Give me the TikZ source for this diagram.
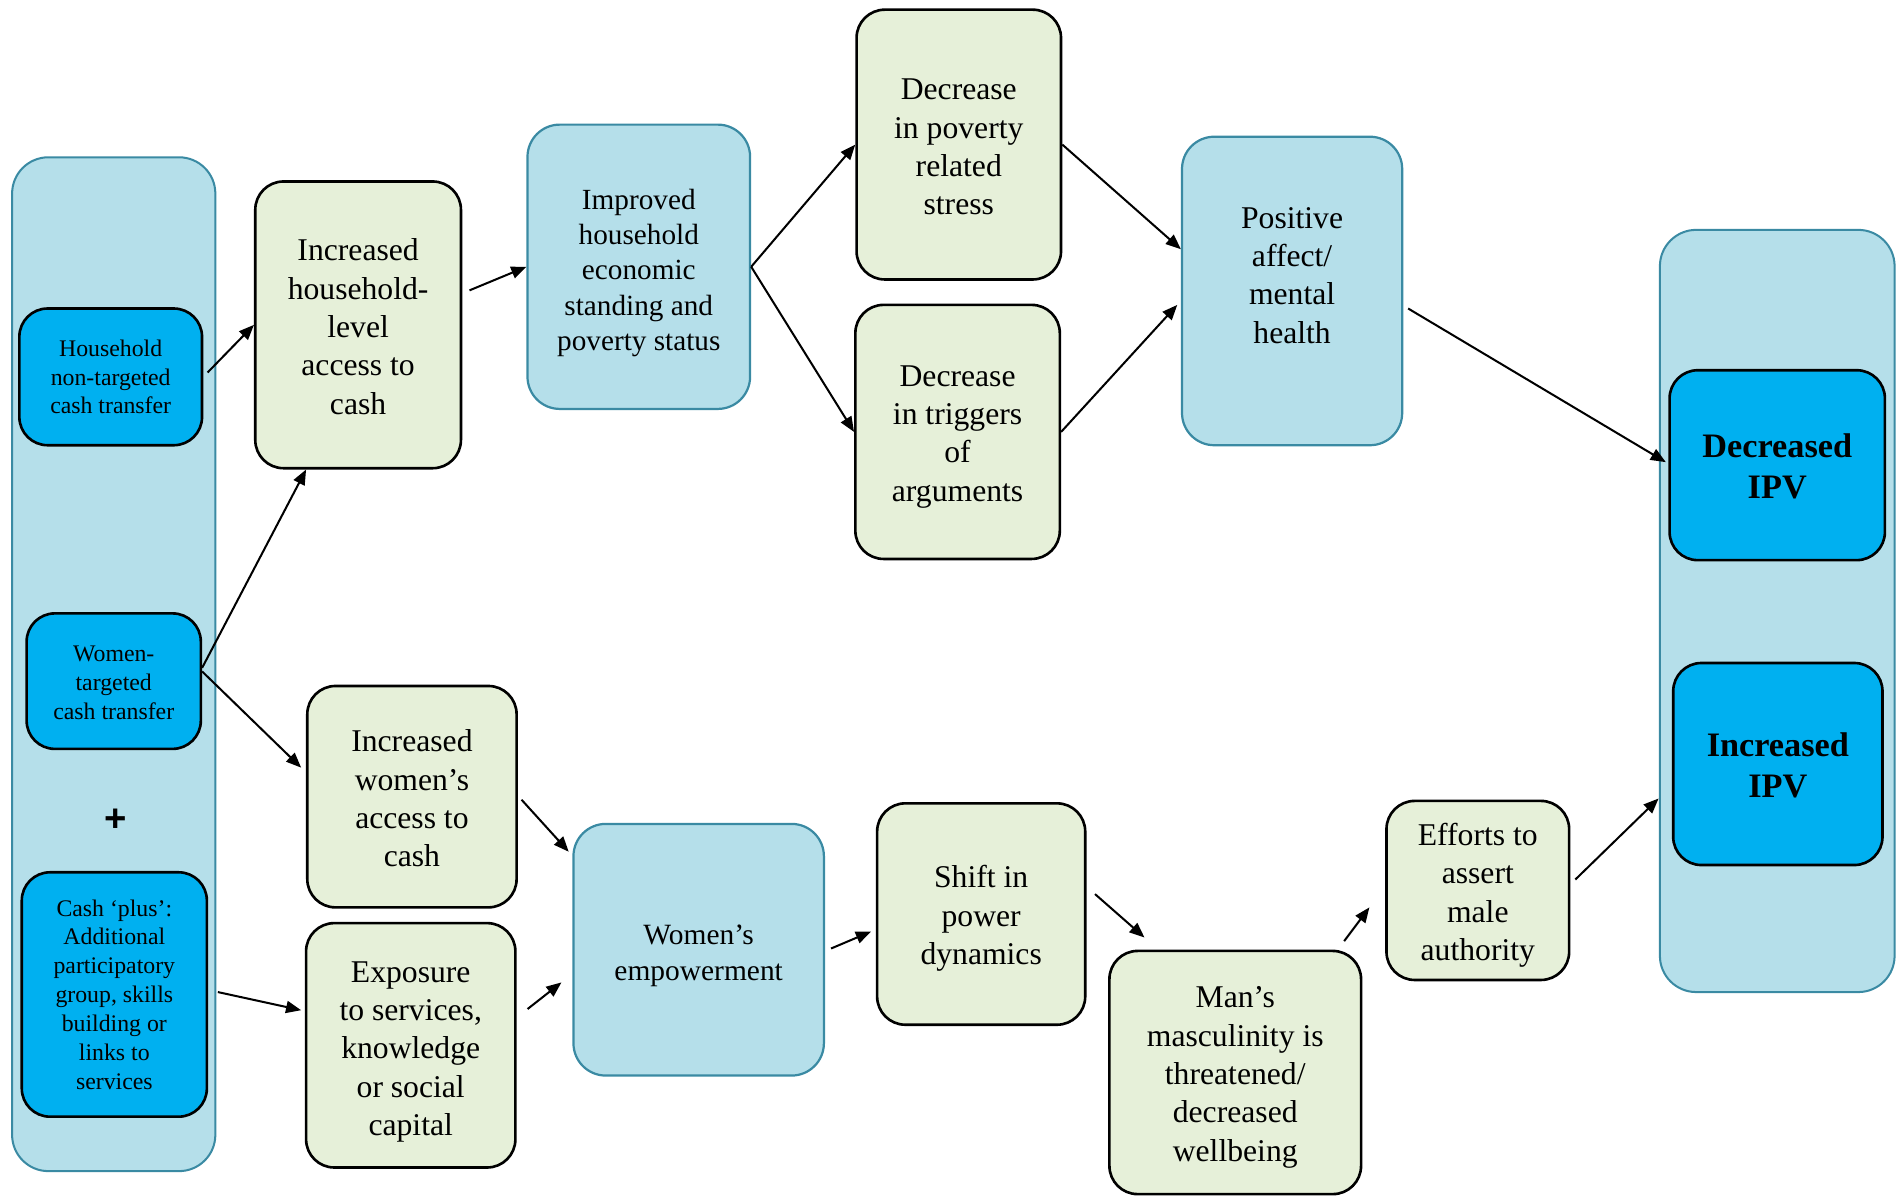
\documentclass[tikz,border=0pt]{standalone}
\usepackage{fontspec}
\setmainfont{Liberation Serif}
\newfontfamily\plusfont{Liberation Sans}
\usetikzlibrary{arrows.meta,calc}
\definecolor{lblue}{HTML}{B5DFEA}
\definecolor{tealb}{HTML}{3A8AA3}
\definecolor{bblue}{HTML}{00B0F0}
\definecolor{lgreen}{HTML}{E6F0D9}
\begin{document}
\begin{tikzpicture}[x=0.6pt,y=-0.6pt,
  sz/.style 2 args={minimum width=#1*0.6pt, minimum height=#2*0.6pt},
  panel/.style={draw=tealb, line width=1pt, fill=lblue, rounded corners=18pt, inner sep=0pt},
  gbox/.style={draw=black, line width=1.3pt, fill=lgreen, rounded corners=14pt, inner sep=0pt},
  lbbox/.style={draw=tealb, line width=1.1pt, fill=lblue, rounded corners=16pt, inner sep=0pt},
  bbox/.style={draw=black, line width=1.3pt, fill=bblue, rounded corners=14pt, inner sep=0pt},
  gtxt/.style={align=center, inner sep=0pt, font=\fontsize{15.7}{19}\selectfont},
  lbtxt/.style={align=center, inner sep=0pt, font=\fontsize{14.5}{17.5}\selectfont},
  btxt/.style={align=center, inner sep=0pt, font=\fontsize{11.8}{14.3}\selectfont},
  ipvtxt/.style={align=center, inner sep=0pt, font=\fontsize{17}{20.4}\selectfont\bfseries},
  arr/.style={-{Triangle[length=7.5pt,width=6pt]}, line width=1pt}
]
\useasboundingbox (0,0) rectangle (1568,989);

% panels
\node[panel, sz={168}{838}] (lp) at (94,549) {};
\node[panel, sz={194}{630}] (rp) at (1469,505) {};

% left column
\node[bbox, sz={151}{113}] (hh) at (91.5,311.5) {};
\node[btxt] (hht) at ($(hh)+(0,0)$) {Household\\non-targeted\\cash transfer};
\node[bbox, sz={144}{112}] (wt) at (94,563) {};
\node[btxt] (wtt) at ($(wt)+(0,1.5)$) {Women-\\targeted\\cash transfer};
\node[font=\plusfont\bfseries\fontsize{19}{20}\selectfont, inner sep=0pt] (plus) at (96,678) {+};
\node[bbox, sz={153}{202}] (cp) at (94.5,822) {};
\node[btxt] (cpt) at ($(cp)+(0,0)$) {Cash `plus':\\Additional\\participatory\\group, skills\\building or\\links to\\services};

% upper path
\node[gbox, sz={170}{237}] (ihh) at (296,268.5) {};
\node[gtxt] (ihht) at ($(ihh)+(0,1.5)$) {Increased\\household-\\level\\access to\\cash};
\node[lbbox, sz={184}{235}] (imp) at (528,220.5) {};
\node[lbtxt] (impt) at ($(imp)+(0,5)$) {Improved\\household\\economic\\standing and\\poverty status};
\node[gbox, sz={169}{223}] (dps) at (792.5,119.5) {};
\node[gtxt] (dpst) at ($(dps)+(0,2)$) {Decrease\\in poverty\\related\\stress};
\node[gbox, sz={169}{210}] (dta) at (791.5,357) {};
\node[gtxt] (dtat) at ($(dta)+(0,4)$) {Decrease\\in triggers\\of\\arguments};
\node[lbbox, sz={182}{255}] (pos) at (1068,240.5) {};
\node[gtxt] (post) at ($(pos)+(0,-13)$) {Positive\\affect/\\mental\\health};

% right column
\node[bbox, sz={178}{157}] (dipv) at (1469,384.5) {};
\node[ipvtxt] (dipvt) at ($(dipv)+(0,1)$) {Decreased\\IPV};
\node[bbox, sz={173}{167}] (iipv) at (1469.5,631.5) {};
\node[ipvtxt] (iipvt) at ($(iipv)+(0,1)$) {Increased\\IPV};

% lower path
\node[gbox, sz={173}{183}] (iwa) at (340.5,658.5) {};
\node[gtxt] (iwat) at ($(iwa)+(0,1.5)$) {Increased\\women's\\access to\\cash};
\node[gbox, sz={173}{202}] (exp) at (339.5,864) {};
\node[gtxt] (expt) at ($(exp)+(0,5.5)$) {Exposure\\to services,\\knowledge\\or social\\capital};
\node[lbbox, sz={207}{208}] (wemp) at (577.5,785) {};
\node[lbtxt, font=\fontsize{14.6}{18}\selectfont] (wempt) at ($(wemp)+(0,5)$) {Women's\\empowerment};
\node[gbox, sz={172}{183}] (shift) at (811,755.5) {};
\node[gtxt] (shiftt) at ($(shift)+(0,3.5)$) {Shift in\\power\\dynamics};
\node[gbox, sz={208}{201}] (man) at (1021,886.5) {};
\node[gtxt] (mant) at ($(man)+(0,4)$) {Man's\\masculinity is\\threatened/\\decreased\\wellbeing};
\node[gbox, sz={151}{148}] (eff) at (1221.5,736) {};
\node[gtxt] (efft) at ($(eff)+(0,4)$) {Efforts to\\assert\\male\\authority};

% connectors
\draw[arr, shorten <=3pt] (hh.east) -- (ihh.west);
\draw[arr] ($(wt.east)+(0,-11)$) -- ($(ihh.south)+(-43,0)$);
\draw[arr] ($(wt.east)+(0,-8)$) -- ($(iwa.west)+(-4,-24)$);
\draw[arr] ($(cp.east)+(8,-2)$) -- ($(exp.west)+(-3,-29)$);
\draw[arr] ($(ihh.east)+(6,-28.5)$) -- (imp.west);
\draw[arr] (imp.east) -- (dps.west);
\draw[arr] (imp.east) -- (dta.west);
\draw[arr] (dps.east) -- ($(pos.west)+(0,-34.5)$);
\draw[arr] (dta.east) -- ($(pos.west)+(-3,11.5)$);
\draw[arr] ($(pos.east)+(4,14.5)$) -- ($(dipv.west)+(-2,-2.5)$);
\draw[arr] ($(iwa.east)+(3,2.5)$) -- ($(wemp.west)+(-3,-81)$);
\draw[arr] ($(exp.east)+(9,-30)$) -- ($(wemp.west)+(-9,27)$);
\draw[arr] ($(wemp.east)+(5,-1)$) -- ($(shift.west)+(-4,14.5)$);
\draw[arr] ($(shift.east)+(7,-16.5)$) -- ($(man.north)+(-75,-10)$);
\draw[arr] ($(man.north)+(90,-7)$) -- ($(eff.west)+(-13,14)$);
\draw[arr] ($(eff.east)+(4,-9)$) -- ($(iipv.west)+(-11,28.5)$);
\end{tikzpicture}
\end{document}
